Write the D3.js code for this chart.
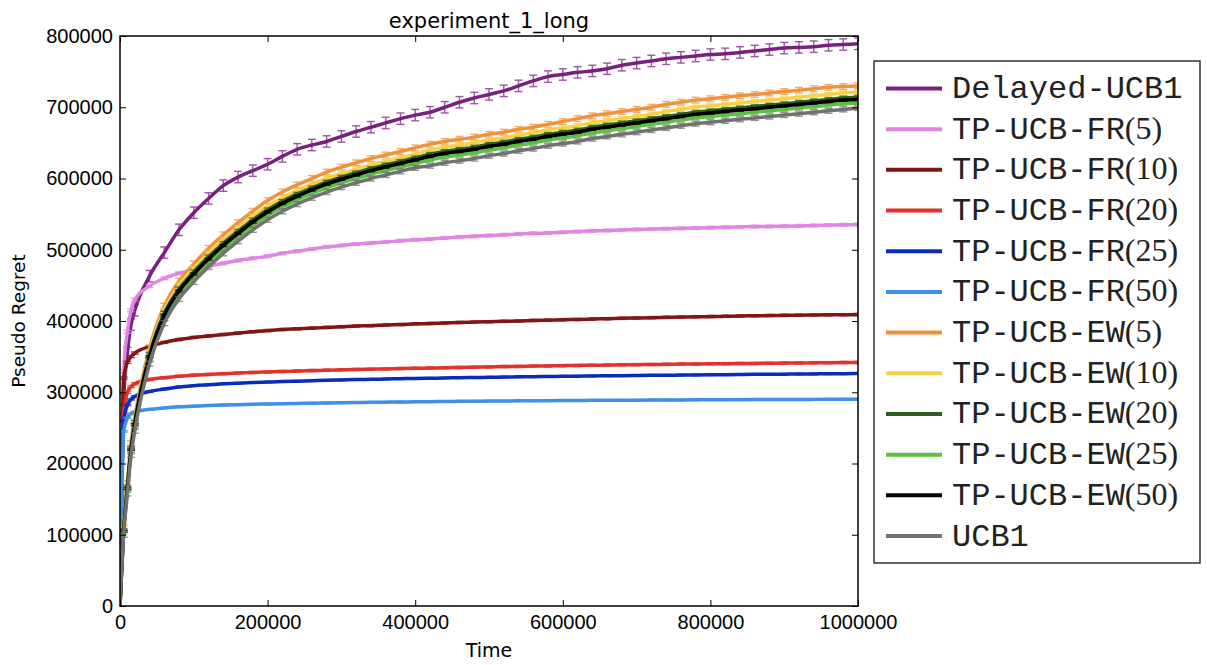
<!DOCTYPE html>
<meta charset="utf-8">
<style>
    body { margin: 0; background: #fff; }
    svg { font-family: "DejaVu Sans", sans-serif; }
    .axis text { font-size: 20px; fill: #000; }
    .axis line { stroke: #000; stroke-width: 1; }
    .axis path { display: none; }
    .frame { fill: none; stroke: #000; stroke-width: 1.5; }
    .legend-box { fill: #fff; stroke: #333; stroke-width: 1.5; }
    .legend text { font-family: "Liberation Mono", "Courier New", monospace; font-size: 32px; fill: #222; }
    .legend .num { font-family: "Liberation Serif", "Times New Roman", serif; }
</style>
<body>
<script src="https://cdn.jsdelivr.net/npm/d3@7"></script>
<script>
    const width = 1207;
    const height = 665;
    const margin = {top: 36, right: 349, bottom: 59, left: 120};

    // sample times of the runs
    const times = [0, 5000, 10000, 15000, 20000, 40000, 60000, 80000, 100000, 120000,
        140000, 160000, 180000, 200000, 220000, 240000, 260000, 280000, 300000, 320000,
        340000, 360000, 380000, 400000, 420000, 440000, 460000, 480000, 500000, 520000,
        540000, 560000, 580000, 600000, 620000, 640000, 660000, 680000, 700000, 720000,
        740000, 760000, 780000, 800000, 820000, 840000, 860000, 880000, 900000, 920000,
        940000, 960000, 980000, 1000000];

    const delayedUcb1 = [0, 290000, 355000, 395000, 415000, 463000, 496000, 528000, 552000, 572000,
        590000, 602000, 611000, 620000, 631000, 641000, 647000, 652000, 659000, 666000,
        672000, 678000, 684000, 689000, 693000, 700000, 707000, 713000, 718000, 723000,
        730000, 737000, 743000, 746000, 749000, 751000, 754000, 759000, 762000, 765000,
        768000, 770000, 772000, 774000, 775000, 777000, 779000, 781000, 783000, 784000,
        785000, 787000, 788000, 789000];

    const fr5 = [0, 330000, 385000, 415000, 430000, 449000, 460000, 467000, 472000, 477000,
        481000, 485000, 488000, 491000, 495000, 498000, 501000, 504000, 506000, 508000,
        509500, 511000, 512500, 514000, 515000, 516500, 518000, 519000, 520000, 521000,
        522000, 523000, 523500, 524500, 525500, 526500, 527000, 527700, 528500, 529000,
        529500, 530000, 530500, 531000, 531500, 532000, 532500, 532800, 533000, 533500,
        534000, 534500, 535000, 535500];

    const fr10 = [0, 320000, 342000, 350000, 355000, 364000, 370000, 374000, 377000, 379000,
        381000, 383000, 385000, 386500, 388000, 389000, 390000, 391000, 392000, 393000,
        393500, 394500, 395000, 396000, 396500, 397200, 398000, 398500, 399000, 399500,
        400000, 400800, 401200, 401800, 402200, 402700, 403200, 403700, 404200, 404700,
        405100, 405500, 405800, 406200, 406600, 407000, 407300, 407600, 407900, 408200,
        408400, 408600, 408800, 409000];

    const fr20 = [0, 270000, 300000, 308000, 312000, 318000, 320500, 322500, 324000, 325000,
        326000, 327000, 327800, 328500, 329200, 329800, 330400, 331000, 331500, 332000,
        332400, 332800, 333200, 333600, 334000, 334400, 334800, 335200, 335600, 336000,
        336300, 336700, 337000, 337300, 337600, 337900, 338200, 338500, 338700, 339000,
        339200, 339500, 339700, 339900, 340100, 340300, 340500, 340700, 340900, 341100,
        341300, 341500, 341700, 341900];

    const fr25 = [0, 260000, 282000, 290000, 294000, 301000, 304500, 307500, 309200, 310500,
        311800, 312800, 313600, 314300, 315000, 315600, 316200, 316800, 317300, 317800,
        318200, 318600, 319000, 319400, 319700, 320000, 320400, 320700, 321000, 321300,
        321600, 321900, 322100, 322400, 322600, 322900, 323100, 323300, 323500, 323700,
        323900, 324100, 324300, 324500, 324700, 324900, 325100, 325200, 325400, 325600,
        325700, 325900, 326000, 326200];

    const fr50 = [0, 245000, 264000, 270000, 272500, 276000, 278000, 279500, 280500, 281300,
        282000, 282600, 283100, 283500, 283900, 284300, 284700, 285000, 285300, 285600,
        285900, 286100, 286300, 286600, 286800, 287000, 287200, 287400, 287600, 287700,
        287900, 288000, 288200, 288300, 288400, 288600, 288700, 288800, 288900, 289000,
        289100, 289200, 289300, 289400, 289500, 289600, 289700, 289800, 289800, 289900,
        290000, 290100, 290200, 290300];

    const ew5 = [0, 110000, 172000, 228000, 264000, 362000, 421000, 456000, 480000, 502000,
        521000, 538000, 554000, 569000, 581000, 591000, 600000, 609000, 616000, 622000,
        628000, 633000, 638000, 643000, 648000, 652000, 655000, 658000, 662000, 665000,
        669000, 672000, 676000, 680000, 684000, 688000, 691000, 694000, 697000, 700000,
        704000, 707000, 710000, 712000, 714000, 716000, 718000, 720000, 722000, 724000,
        726000, 728000, 729000, 730000];

    const ew10 = [0, 108000, 169000, 225000, 260000, 357000, 415000, 450000, 474000, 495000,
        514000, 531000, 547000, 561000, 573000, 583000, 592000, 600000, 607000, 613000,
        619000, 624000, 629000, 634000, 640000, 644000, 647000, 650000, 654000, 657000,
        661000, 664000, 668000, 671000, 674000, 678000, 681000, 684000, 687000, 690000,
        694000, 697000, 700000, 702000, 704000, 706000, 708000, 710000, 712000, 714000,
        716000, 718000, 720000, 721000];

    const ew20 = [0, 106000, 167000, 222000, 258000, 353000, 411000, 445000, 469000, 490000,
        509000, 526000, 542000, 556000, 568000, 578000, 587000, 595000, 602000, 608000,
        614000, 619000, 624000, 629000, 634000, 638000, 641000, 644000, 648000, 651000,
        655000, 658000, 662000, 665000, 668000, 672000, 675000, 678000, 681000, 684000,
        687000, 690000, 693000, 695000, 697000, 699000, 701000, 703000, 705000, 707000,
        709000, 711000, 713000, 714000];

    const ew25 = [0, 103000, 162000, 216000, 250000, 345000, 403000, 437000, 461000, 482000,
        501000, 518000, 534000, 548000, 560000, 570000, 579000, 587000, 594000, 600000,
        606000, 611000, 616000, 621000, 626000, 630000, 633000, 636000, 640000, 643000,
        647000, 650000, 654000, 657000, 660000, 664000, 667000, 670000, 673000, 676000,
        679000, 682000, 685000, 687000, 689000, 691000, 693000, 695000, 697000, 699000,
        701000, 703000, 705000, 706000];

    const ew50 = [0, 105000, 165000, 220000, 255000, 350000, 408000, 442000, 466000, 487000,
        506000, 523000, 539000, 553000, 565000, 575000, 584000, 592000, 599000, 605000,
        611000, 616000, 621000, 626000, 631000, 635000, 638000, 641000, 645000, 648000,
        652000, 655000, 659000, 662000, 665000, 669000, 672000, 675000, 678000, 681000,
        684000, 687000, 690000, 692000, 694000, 696000, 698000, 700000, 702000, 704000,
        706000, 708000, 710000, 711000];

    const ucb1 = [0, 100000, 158000, 212000, 246000, 340000, 397000, 431000, 455000, 476000,
        495000, 512000, 528000, 542000, 554000, 564000, 573000, 581000, 588000, 594000,
        600000, 605000, 610000, 615000, 618000, 622000, 625000, 628000, 632000, 635000,
        639000, 642000, 646000, 649000, 652000, 656000, 659000, 662000, 665000, 668000,
        671000, 674000, 677000, 679000, 681000, 683000, 685000, 687000, 689000, 691000,
        693000, 695000, 697000, 699000];

    // half height of the error bars, one per series
    const errors = [8000, 2000, 1500, 1500, 1000, 1000, 4000, 3000, 2500, 2500, 1500, 3500];

    const names = ["Delayed-UCB1", "TP-UCB-FR(5)", "TP-UCB-FR(10)", "TP-UCB-FR(20)",
        "TP-UCB-FR(25)", "TP-UCB-FR(50)", "TP-UCB-EW(5)", "TP-UCB-EW(10)",
        "TP-UCB-EW(20)", "TP-UCB-EW(25)", "TP-UCB-EW(50)", "UCB1"];
    const colors = ["#7a1f82", "#df86e3", "#821414", "#e2322b", "#0a2cbc", "#3d8fea",
        "#f0923a", "#f6d046", "#2b5f1c", "#5cbf42", "#000000", "#717171"];
    const values = [delayedUcb1, fr5, fr10, fr20, fr25, fr50, ew5, ew10, ew20, ew25, ew50, ucb1];

    const xTicks = [0, 200000, 400000, 600000, 800000, 1000000];
    const yTicks = [0, 100000, 200000, 300000, 400000, 500000, 600000, 700000, 800000];

    const series = names.map((name, i) => ({
        name: name,
        color: colors[i],
        err: errors[i],
        points: times.map((t, j) => ({t: t, v: values[i][j]}))
    }));

    const innerW = width - margin.left - margin.right;
    const innerH = height - margin.top - margin.bottom;

    const svg = d3.select("body").append("svg")
        .attr("width", width)
        .attr("height", height);

    const g = svg.append("g")
        .attr("transform", "translate(" + margin.left + "," + margin.top + ")");

    const x = d3.scaleLinear().domain([0, 1000000]).range([0, innerW]);
    const y = d3.scaleLinear().domain([0, 800000]).range([innerH, 0]);

    g.append("clipPath").attr("id", "plot-clip")
        .append("rect").attr("width", innerW).attr("height", innerH);

    const plot = g.append("g").attr("clip-path", "url(#plot-clip)");

    const line = d3.line()
        .x(d => x(d.t))
        .y(d => y(d.v))
        .curve(d3.curveMonotoneX);

    series.forEach(s => {
        const sg = plot.append("g").attr("class", "series");
        const bars = sg.selectAll(".err")
            .data(s.points.filter(d => d.t > 0))
            .enter().append("g")
            .attr("class", "err")
            .attr("stroke", s.color)
            .attr("stroke-width", 1.4)
            .attr("opacity", 0.75);
        bars.append("line")
            .attr("x1", d => x(d.t)).attr("x2", d => x(d.t))
            .attr("y1", d => y(d.v - s.err)).attr("y2", d => y(d.v + s.err));
        bars.append("line")
            .attr("x1", d => x(d.t) - 4).attr("x2", d => x(d.t) + 4)
            .attr("y1", d => y(d.v - s.err)).attr("y2", d => y(d.v - s.err));
        bars.append("line")
            .attr("x1", d => x(d.t) - 4).attr("x2", d => x(d.t) + 4)
            .attr("y1", d => y(d.v + s.err)).attr("y2", d => y(d.v + s.err));
        sg.append("path")
            .datum(s.points)
            .attr("fill", "none")
            .attr("stroke", s.color)
            .attr("stroke-width", 3.5)
            .attr("d", line);
    });

    // axes, ticks pointing inward on all four sides
    g.append("g").attr("class", "axis")
        .attr("transform", "translate(0," + innerH + ")")
        .call(d3.axisBottom(x).tickValues(xTicks).tickSize(-6).tickPadding(9).tickFormat(d3.format("d")));
    g.append("g").attr("class", "axis")
        .call(d3.axisTop(x).tickValues(xTicks).tickSize(-6).tickFormat(""));
    g.append("g").attr("class", "axis")
        .call(d3.axisLeft(y).tickValues(yTicks).tickSize(-6).tickPadding(7).tickFormat(d3.format("d")));
    g.append("g").attr("class", "axis")
        .attr("transform", "translate(" + innerW + ",0)")
        .call(d3.axisRight(y).tickValues(yTicks).tickSize(-6).tickFormat(""));

    g.append("rect").attr("class", "frame")
        .attr("width", innerW).attr("height", innerH);

    svg.append("text")
        .attr("x", margin.left + innerW / 2)
        .attr("y", 28)
        .attr("text-anchor", "middle")
        .style("font-size", "21px")
        .text("experiment_1_long");

    svg.append("text")
        .attr("x", margin.left + innerW / 2)
        .attr("y", 657)
        .attr("text-anchor", "middle")
        .style("font-size", "19px")
        .text("Time");

    svg.append("text")
        .attr("transform", "translate(25," + (margin.top + innerH / 2) + ") rotate(-90)")
        .attr("text-anchor", "middle")
        .style("font-size", "18.5px")
        .text("Pseudo Regret");

    // legend
    const legend = svg.append("g").attr("class", "legend");
    legend.append("rect").attr("class", "legend-box")
        .attr("x", 874).attr("y", 61).attr("width", 326).attr("height", 502);

    const rowY = d3.scaleLinear().domain([0, 11]).range([88.5, 536]);

    const items = legend.selectAll(".item")
        .data(series)
        .enter().append("g")
        .attr("class", "item")
        .attr("transform", (d, i) => "translate(0," + rowY(i) + ")");

    items.append("line")
        .attr("x1", 886).attr("x2", 942)
        .attr("stroke", d => d.color)
        .attr("stroke-width", 4);

    const label = items.append("text")
        .attr("x", 952)
        .attr("y", 9.5);
    label.append("tspan")
        .text(d => d.name.replace(/\(.*\)$/, ""));
    label.append("tspan")
        .attr("class", "num")
        .text(d => (d.name.match(/\(.*\)$/) || [""])[0]);
</script>
</body>
